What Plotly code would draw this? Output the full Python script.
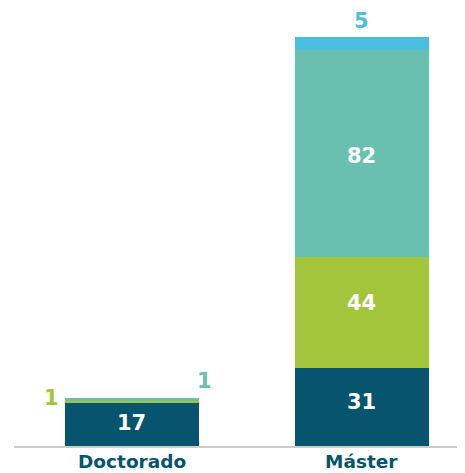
import plotly.graph_objects as go

categories = ["Doctorado", "Máster"]
series_names = ["s1", "s2", "s3", "s4"]
dark_vals = [17, 31]
green_vals = [1, 44]
teal_vals = [1, 82]
blue_vals = [0, 5]
colors = ["#06546e", "#a3c53b", "#69c0b0", "#4cbfe0"]

series = [dark_vals, green_vals, teal_vals, blue_vals]
FONT = "DejaVu Sans"
NUM_SIZE = 21

# pixel nudges for the inside labels (per series, per category)
inside_shift = [[2, 5], [0, 9], [0, -3], [0, 0]]

fig = go.Figure()
for name, vals, col in zip(series_names, series, colors):
    fig.add_trace(go.Bar(
        x=categories, y=vals, name=name, marker=dict(color=col, line=dict(width=0)),
        width=0.583, hoverinfo="skip",
    ))

# inside labels (white) for large segments
for si, vals in enumerate(series):
    for ci, cat in enumerate(categories):
        v = vals[ci]
        if v < 10:
            continue
        base = sum(series[k][ci] for k in range(si))
        fig.add_annotation(x=cat, y=base + v / 2, text=str(v), showarrow=False,
                           yshift=inside_shift[si][ci],
                           font=dict(color="white", size=NUM_SIZE, family=FONT, weight="bold"))

# outside labels for small segments
fig.add_annotation(x=categories[0], y=dark_vals[0] + green_vals[0], text=str(green_vals[0]),
                   showarrow=False, xshift=-80, yshift=3,
                   font=dict(color=colors[1], size=NUM_SIZE, family=FONT, weight="bold"))
fig.add_annotation(x=categories[0], y=dark_vals[0] + green_vals[0] + teal_vals[0], text=str(teal_vals[0]),
                   showarrow=False, xshift=73, yshift=17,
                   font=dict(color=colors[2], size=NUM_SIZE, family=FONT, weight="bold"))
tot_m = dark_vals[1] + green_vals[1] + teal_vals[1] + blue_vals[1]
fig.add_annotation(x=categories[1], y=tot_m, text=str(blue_vals[1]),
                   showarrow=False, yshift=16,
                   font=dict(color=colors[3], size=NUM_SIZE, family=FONT, weight="bold"))

# category labels under the axis
for cat in categories:
    fig.add_annotation(x=cat, xref="x", y=0, yref="paper", yanchor="top", text=cat,
                       showarrow=False, yshift=-3,
                       font=dict(color="#06546e", size=18.5, family=FONT, weight="bold"))

fig.update_layout(
    width=457, height=465, barmode="stack", showlegend=False,
    plot_bgcolor="white", paper_bgcolor="white",
    margin=dict(l=6, r=0, t=0, b=27, autoexpand=False),
    bargap=0,
)
fig.update_xaxes(range=[-0.513, 1.448], showline=True, linecolor="#cccccc", linewidth=2,
                 showgrid=False, zeroline=False, ticks="", showticklabels=False, automargin=False)
fig.update_yaxes(range=[0, 173.5], visible=False, showgrid=False, zeroline=False, automargin=False)

fig.write_html("out.html")
